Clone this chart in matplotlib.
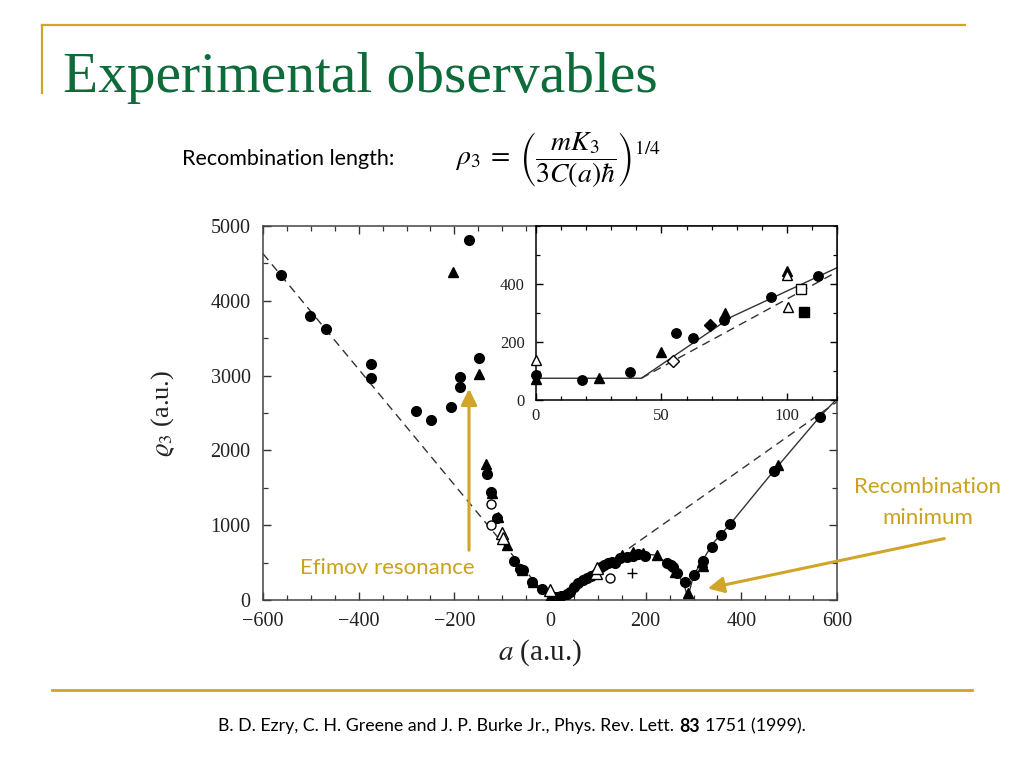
import matplotlib
matplotlib.use('Agg')
import matplotlib.pyplot as plt
from matplotlib.patches import FancyArrowPatch
from matplotlib.lines import Line2D
from matplotlib.ticker import MultipleLocator, FixedLocator

plt.rcParams['font.family'] = ['Liberation Serif', 'DejaVu Serif']
plt.rcParams['mathtext.fontset'] = 'stix'
plt.rcParams['axes.unicode_minus'] = True

# ---------------- data (main panel) ----------------
circ_a = [-563, -502, -468, -374, -374, -281, -249, -207, -188, -188, -169, -149,
          -132, -123, -111, -75, -62, -56, -37, -17,
          8, 14, 24, 35, 42, 50, 59, 70, 78, 86, 106, 113, 122, 130, 136, 146, 160,
          174, 185, 198, 244, 252, 258, 265, 282, 301, 319, 338, 357, 376, 469, 564]
circ_rho = [4345, 3797, 3619, 3155, 2968, 2527, 2402, 2580, 2981, 2852, 4809, 3240,
            1684, 1440, 1092, 520, 410, 395, 240, 145,
            40, 45, 53, 80, 110, 180, 223, 267, 290, 320, 446, 468, 499, 512, 500, 557, 580,
            590, 610, 590, 490, 468, 440, 357, 240, 328, 526, 713, 869, 1012, 1725, 2451]

tri_a = [-202, -149, -133, -121, -108, -89, -59, -35, 1, 150, 174, 195, 223, 261, 289, 317, 320, 477]
tri_rho = [4381, 3021, 1814, 1426, 1105, 735, 400, 245, 45, 601, 640, 624, 601, 380, 89, 512, 460, 1800]

otri_a = [-101, -99, 1, 97, 99]
otri_rho = [891, 830, 140, 357, 423]

ocirc_a = [-124, -124, 125]
ocirc_rho = [1283, 1002, 290]

plus_a = [172]
plus_rho = [365]

# theory curves (main panel)
dash_left_a = [-600, -20]
dash_left_rho = [4630, 150]
dash_right_a = [165, 600]
dash_right_rho = [690, 2650]
solid_a = [0, 20, 50, 100, 150, 190, 220, 250, 270, 282, 288, 300, 341, 376, 467, 564, 600]
solid_rho = [0, 60, 200, 440, 580, 620, 600, 470, 320, 170, 30, 330, 760, 1010, 1720, 2450, 2690]

# ---------------- data (inset) ----------------
in_circ_a = [0, 18.5, 37.5, 56, 62.5, 75, 93.6, 112.5]
in_circ_rho = [85, 68, 95, 230, 214, 276, 354, 428]
in_tri_a = [0, 25, 50, 75.3, 100]
in_tri_rho = [72, 76, 164, 299, 445]
in_otri_a = [0, 100, 100.6]
in_otri_rho = [138, 430, 322]
in_odia_a = [54.5]
in_odia_rho = [134]
in_dia_a = [69.3]
in_dia_rho = [260]
in_osq_a = [105.8]
in_osq_rho = [383]
in_sq_a = [106.8]
in_sq_rho = [305]

in_solid_a = [0, 42, 78, 120]
in_solid_rho = [75, 75, 287, 456]
in_dash_a = [42, 120]
in_dash_rho = [75, 442]

inset_yticks = [0, 200, 400]

# ---------------- figure ----------------
W, H = 1024, 768
fig = plt.figure(figsize=(10.24, 7.68), dpi=100)


def fx(px):
    return px / W


def fy(py):
    return 1 - py / H


gold = '#D0A52A'
text_gold = '#C9A21E'
green = '#0E6B3A'
sans = ['Lato', 'DejaVu Sans']

fig.add_artist(Line2D([fx(42), fx(965)], [fy(25), fy(25)], color=gold, lw=1.6))
fig.add_artist(Line2D([fx(42), fx(42)], [fy(25), fy(93)], color=gold, lw=1.6))
fig.add_artist(Line2D([fx(52), fx(972)], [fy(690), fy(690)], color=gold, lw=2.0))

fig.text(fx(63), fy(92), 'Experimental observables', fontsize=41.3,
         color=green, va='baseline', ha='left')

fig.text(fx(182), fy(159), 'Recombination length:', fontsize=15.5, family=sans,
         color='black', va='center', ha='left')
fig.text(fx(455), fy(160), r'$\rho_3\;=\;\left(\dfrac{mK_3}{3C(a)\hbar}\right)^{1/4}$',
         fontsize=20, va='center', ha='left')

# ---------------- main axes ----------------
ax = fig.add_axes([fx(263), fy(600), 574 / W, 374 / H])
ax.set_xlim(-600, 600)
ax.set_ylim(0, 5000)

lc = '#333333'
ax.plot(dash_left_a, dash_left_rho, color=lc, lw=1.0, ls=(0, (6, 4)), zorder=2)
ax.plot(dash_right_a, dash_right_rho, color=lc, lw=1.0, ls=(0, (6, 4)), zorder=2)
ax.plot(solid_a, solid_rho, color=lc, lw=1.0, zorder=2)

ms = 7
ax.plot(circ_a, circ_rho, 'o', color='black', ms=ms, zorder=3)
ax.plot(tri_a, tri_rho, '^', color='black', ms=ms, zorder=3)
ax.plot(otri_a, otri_rho, '^', mfc='white', mec='black', mew=1.0, ms=ms + 1, zorder=4)
ax.plot(ocirc_a, ocirc_rho, 'o', mfc='white', mec='black', mew=1.0, ms=ms - 0.5, zorder=4)
ax.plot(plus_a, plus_rho, '+', color='black', ms=7.5, mew=1.0, zorder=4)

ax.xaxis.set_major_locator(MultipleLocator(200))
ax.xaxis.set_minor_locator(MultipleLocator(50))
ax.yaxis.set_major_locator(MultipleLocator(1000))
ax.yaxis.set_minor_locator(MultipleLocator(500))
ax.tick_params(which='both', direction='in', top=True, right=True, colors='#333333',
               labelcolor='#222222')
ax.tick_params(which='major', length=6, width=1.0, labelsize=14.5)
ax.tick_params(which='minor', length=3.5, width=0.9)
ax.tick_params(axis='y', pad=9)
ax.tick_params(axis='x', pad=9)
for s in ax.spines.values():
    s.set_color('#444444')
    s.set_linewidth(1.1)

ax.set_ylabel(r'$\varrho_3$ (a.u.)', fontsize=19, color='#222222')
ax.yaxis.set_label_coords(-0.15, 0.5)
ax.set_xlabel(r'$a$ (a.u.)', fontsize=21, color='#222222')
ax.xaxis.set_label_coords(0.483, -0.1)

# ---------------- inset ----------------
ax2 = fig.add_axes([fx(536), fy(400), 301 / W, 174 / H])
ax2.set_xlim(0, 120)
ax2.set_ylim(0, 600)
ax2.set_facecolor('white')
ax2.plot(in_solid_a, in_solid_rho, color=lc, lw=1.0, zorder=2)
ax2.plot(in_dash_a, in_dash_rho, color=lc, lw=1.0, ls=(0, (6, 4)), zorder=2)

ims = 6.8
ax2.plot(in_circ_a, in_circ_rho, 'o', color='black', ms=ims, zorder=3, clip_on=False)
ax2.plot(in_tri_a, in_tri_rho, '^', color='black', ms=ims, zorder=3, clip_on=False)
ax2.plot(in_otri_a, in_otri_rho, '^', mfc='white', mec='black', mew=1.0, ms=ims + 1,
         zorder=4, clip_on=False)
ax2.plot(in_odia_a, in_odia_rho, 'D', mfc='white', mec='black', mew=1.0, ms=ims - 1, zorder=4)
ax2.plot(in_dia_a, in_dia_rho, 'D', color='black', ms=ims - 1, zorder=4)
ax2.plot(in_osq_a, in_osq_rho, 's', mfc='white', mec='black', mew=1.0, ms=ims, zorder=4)
ax2.plot(in_sq_a, in_sq_rho, 's', color='black', ms=ims, zorder=4)

ax2.xaxis.set_major_locator(MultipleLocator(50))
ax2.xaxis.set_minor_locator(MultipleLocator(10))
ax2.yaxis.set_major_locator(FixedLocator(inset_yticks))
ax2.yaxis.set_minor_locator(MultipleLocator(100))
ax2.tick_params(which='both', direction='in', top=True, right=True, colors='black',
                labelcolor='#222222')
ax2.tick_params(which='major', length=5, width=1.0, labelsize=12)
ax2.tick_params(which='minor', length=3, width=0.9)
ax2.tick_params(axis='y', pad=8)
ax2.tick_params(axis='x', pad=6)
for s in ax2.spines.values():
    s.set_color('black')
    s.set_linewidth(1.1)

# ---------------- annotations ----------------
fig.text(fx(300), fy(568), 'Efimov resonance', fontsize=16, family=sans,
         color=text_gold, va='center', ha='left')
fig.add_artist(FancyArrowPatch((fx(469), fy(553)), (fx(469), fy(386)),
                               transform=fig.transFigure, arrowstyle='-|>,head_length=8,head_width=4',
                               color=gold, lw=2.2, mutation_scale=1.2))

fig.text(fx(928), fy(487), 'Recombination', fontsize=16, family=sans,
         color=text_gold, va='center', ha='center')
fig.text(fx(928), fy(518), 'minimum', fontsize=16, family=sans,
         color=text_gold, va='center', ha='center')
fig.add_artist(FancyArrowPatch((fx(947), fy(538)), (fx(705), fy(589)),
                               transform=fig.transFigure, arrowstyle='-|>,head_length=8,head_width=4',
                               color=gold, lw=2.2, mutation_scale=1.2))

# ---------------- footer with bold volume ----------------
fig.canvas.draw()
r = fig.canvas.get_renderer()
fs = 12.8
parts = [('B. D. Ezry, C. H. Greene and J. P. Burke Jr., Phys. Rev. Lett.', 'normal'),
         ('83', 'bold'), ('1751 (1999).', 'normal')]
gap = 0.3 * fs * 100 / 72
texts = []
widths = []
for s, wgt in parts:
    t = fig.text(0, fy(726), s, fontsize=fs, family=sans, fontweight=wgt,
                 va='center', ha='left', color='black')
    texts.append(t)
    widths.append(t.get_window_extent(r).width)
total = sum(widths) + gap * (len(parts) - 1)
x0 = 512 - total / 2
for t, w in zip(texts, widths):
    t.set_x(fx(x0))
    x0 += w + gap

fig.savefig('out.png', dpi=100)
